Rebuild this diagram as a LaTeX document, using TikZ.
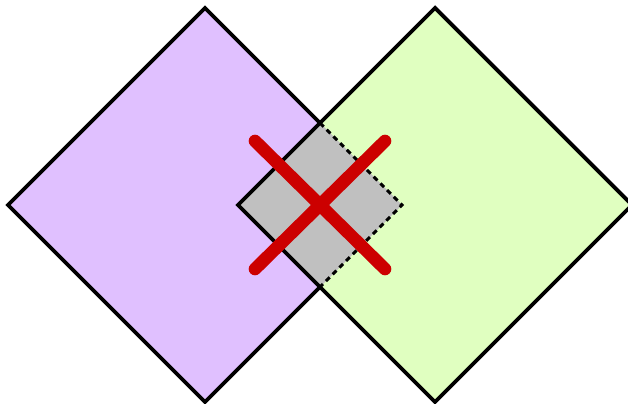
\documentclass[tikz,border=0pt]{standalone}
\usepackage{tikz}
\definecolor{lilac}{HTML}{E0C0FF}
\definecolor{mint}{HTML}{E0FFC0}
\definecolor{overlapgrey}{HTML}{C0C0C0}
\definecolor{crossred}{HTML}{CC0000}
\tikzset{
    outline/.style={draw=black, line width=2.2pt, line join=miter},
    hidden/.style={draw=black, line width=1.7pt, dash pattern=on 3pt off 2.4pt},
    cross/.style={draw=crossred, line width=7.2pt, line cap=round},
}
\begin{document}
\begin{tikzpicture}[x=0.02cm, y=-0.02cm]
        \useasboundingbox (0,0) rectangle (628,404);
        \clip (0,0) rectangle (628,404);
        % corners of the two squares
        \coordinate (lt) at (205,8);   \coordinate (ll) at (8,205);
        \coordinate (lb) at (205,402); \coordinate (lr) at (402,205);
        \coordinate (rt) at (435,8);   \coordinate (rl) at (238,205);
        \coordinate (rb) at (435,402); \coordinate (rr) at (632,205);
        \coordinate (ot) at (320,123); \coordinate (ob) at (320,287);
        % left square
        \draw[outline, fill=lilac] (lt) -- (ll) -- (lb) -- (lr) -- cycle;
        % right square and the overlap
        \fill[mint] (rt) -- (rl) -- (rb) -- (rr) -- cycle;
        \fill[overlapgrey] (ot) -- (rl) -- (ob) -- (lr) -- cycle;
        \draw[outline] (rt) -- (rl) -- (rb) -- (rr) -- cycle;
        \draw[hidden] (ot) -- (lr) -- (ob);
        % the cross
        \draw[cross] (255,141) -- (385,269);
        \draw[cross] (385,141) -- (255,269);
\end{tikzpicture}
\end{document}
